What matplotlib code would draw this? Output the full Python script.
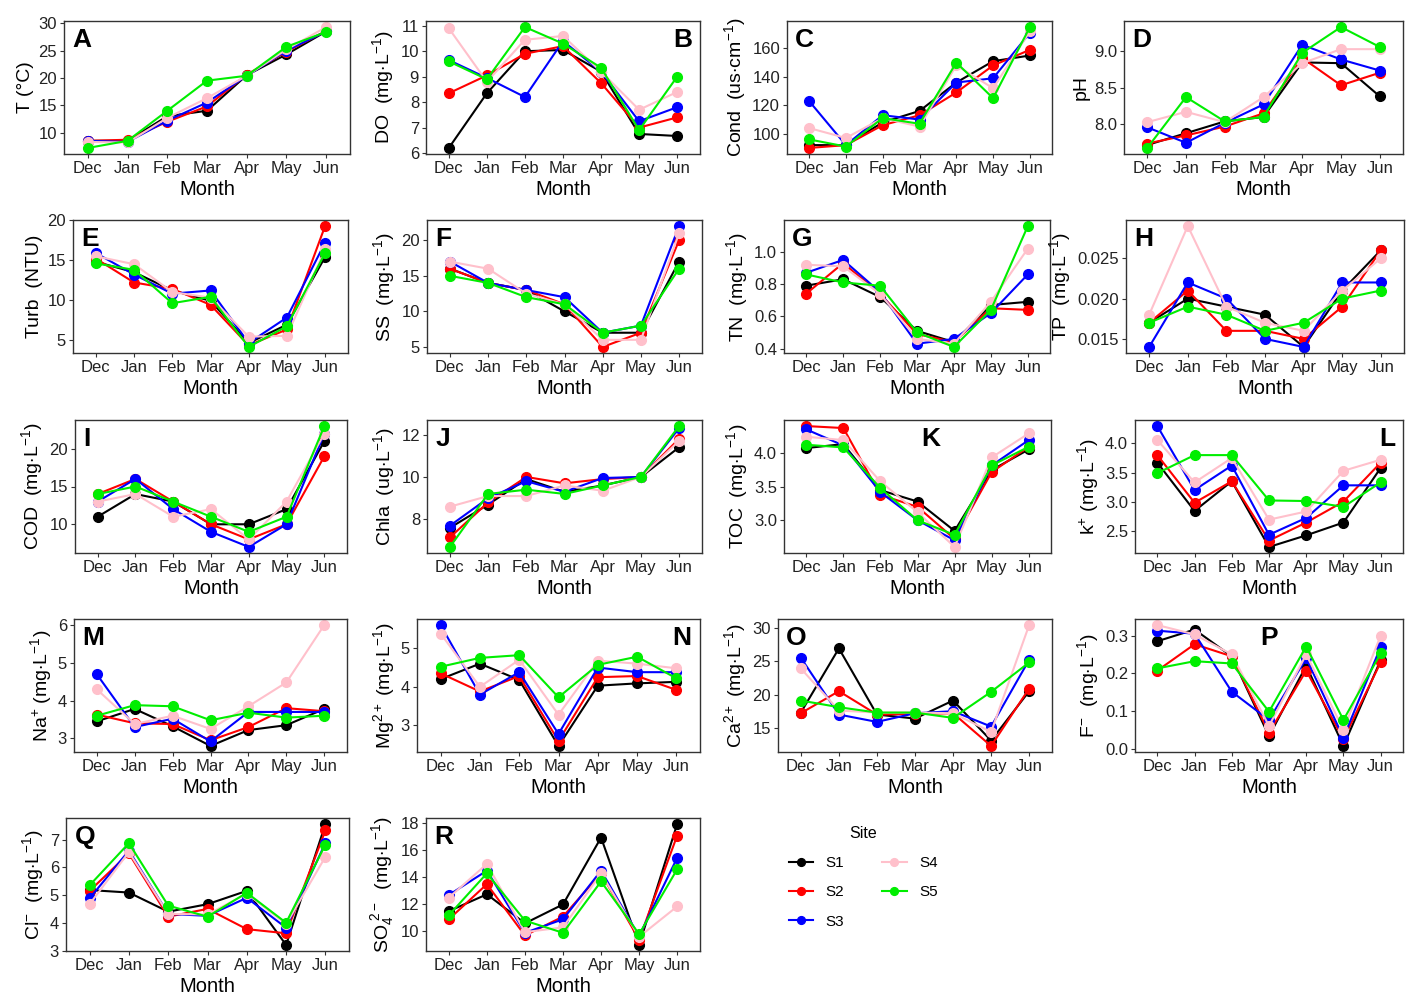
import numpy as np
import matplotlib
matplotlib.use("Agg")
import matplotlib.pyplot as plt

plt.rcParams['font.family'] = ['Liberation Sans', 'DejaVu Sans']
plt.rcParams['mathtext.fontset'] = 'custom'
plt.rcParams['mathtext.rm'] = 'Liberation Sans'
plt.rcParams['mathtext.it'] = 'Liberation Sans:italic'

months = ['Dec', 'Jan', 'Feb', 'Mar', 'Apr', 'May', 'Jun']
sites = ['S1', 'S2', 'S3', 'S4', 'S5']
colors = ['black', 'red', 'blue', 'pink', '#00EE00']

# rows = sites S1..S5, columns = months Dec..Jun
T = [[8.5, 8.5, 13.0, 14.0, 20.5, 24.3, 28.5],
     [8.5, 8.7, 12.0, 14.8, 20.6, 24.8, 28.6],
     [8.5, 8.3, 12.2, 15.5, 20.4, 25.0, 28.5],
     [8.3, 8.2, 12.7, 16.3, 20.4, 25.2, 29.3],
     [7.2, 8.5, 14.0, 19.5, 20.4, 25.7, 28.4]]
DO = [[6.2, 8.35, 10.0, 10.05, 9.2, 6.75, 6.67],
      [8.35, 9.05, 9.9, 10.2, 8.75, 7.0, 7.4],
      [9.65, 8.95, 8.2, 10.4, 9.2, 7.25, 7.8],
      [10.9, 8.8, 10.45, 10.6, 9.2, 7.7, 8.4],
      [9.6, 8.9, 10.95, 10.3, 9.35, 6.9, 9.0]]
COND = [[92, 92, 108, 116, 136, 151, 155],
        [90, 92, 106, 113, 129, 148, 159],
        [123, 92, 113, 110, 136, 139, 171],
        [104, 97, 111, 105, 148, 132, 172],
        [96, 91, 111, 107, 150, 125, 175]]
PH = [[7.72, 7.88, 8.04, 8.10, 8.84, 8.83, 8.38],
      [7.74, 7.85, 7.97, 8.15, 8.90, 8.53, 8.70],
      [7.96, 7.75, 8.02, 8.27, 9.08, 8.88, 8.73],
      [8.03, 8.17, 8.03, 8.37, 8.83, 9.02, 9.02],
      [7.68, 8.37, 8.04, 8.10, 8.97, 9.32, 9.05]]
TURB = [[14.8, 13.5, 11.2, 9.9, 4.6, 6.9, 15.4],
        [15.2, 12.2, 11.4, 9.4, 4.3, 6.3, 19.3],
        [15.9, 13.2, 10.8, 11.2, 4.6, 7.8, 17.2],
        [15.5, 14.5, 11.0, 10.3, 5.4, 5.5, 16.4],
        [14.6, 13.8, 9.6, 10.4, 4.1, 6.7, 15.9]]
SS = [[16, 14, 13, 10, 7, 7, 17],
      [16, 14, 13, 11, 5, 7, 20],
      [17, 14, 13, 12, 7, 8, 22],
      [17, 16, 12.5, 11, 6, 6, 21],
      [15, 14, 12, 11, 7, 8, 16]]
TN = [[0.79, 0.83, 0.72, 0.51, 0.44, 0.67, 0.69],
      [0.74, 0.93, 0.74, 0.49, 0.44, 0.65, 0.64],
      [0.87, 0.95, 0.75, 0.43, 0.46, 0.62, 0.86],
      [0.92, 0.91, 0.74, 0.46, 0.43, 0.69, 1.02],
      [0.86, 0.81, 0.79, 0.50, 0.41, 0.64, 1.16]]
TP = [[0.017, 0.020, 0.019, 0.018, 0.014, 0.021, 0.026],
      [0.017, 0.021, 0.016, 0.016, 0.015, 0.019, 0.026],
      [0.014, 0.022, 0.020, 0.015, 0.014, 0.022, 0.022],
      [0.018, 0.029, 0.019, 0.017, 0.016, 0.021, 0.025],
      [0.017, 0.019, 0.018, 0.016, 0.017, 0.020, 0.021]]
COD = [[11, 14, 13, 10, 10, 12, 21],
       [14, 16, 13, 10, 8, 10, 19],
       [13, 16, 12, 9, 7, 10, 22],
       [13, 14, 11, 12, 8, 13, 22],
       [14, 15, 13, 11, 9, 11, 23]]
CHLA = [[7.6, 8.7, 9.9, 9.3, 9.6, 10.0, 11.4],
        [7.15, 8.8, 10.0, 9.7, 9.9, 10.0, 11.8],
        [7.7, 9.0, 9.8, 9.3, 9.95, 10.0, 12.3],
        [8.6, 9.1, 9.1, 9.6, 9.35, 10.0, 11.7],
        [6.7, 9.2, 9.4, 9.2, 9.6, 10.0, 12.4]]
TOC = [[4.08, 4.14, 3.45, 3.28, 2.84, 3.75, 4.06],
       [4.41, 4.38, 3.38, 3.20, 2.72, 3.72, 4.10],
       [4.36, 4.12, 3.42, 3.00, 2.70, 3.82, 4.20],
       [4.25, 4.20, 3.58, 3.12, 2.60, 3.94, 4.30],
       [4.13, 4.09, 3.48, 3.00, 2.78, 3.82, 4.10]]
K = [[3.67, 2.84, 3.35, 2.22, 2.42, 2.64, 3.58],
     [3.80, 2.98, 3.35, 2.33, 2.64, 3.00, 3.67],
     [4.30, 3.20, 3.62, 2.43, 2.72, 3.28, 3.28],
     [4.06, 3.33, 3.75, 2.69, 2.83, 3.53, 3.72],
     [3.49, 3.80, 3.80, 3.02, 3.01, 2.91, 3.33]]
NA = [[3.45, 3.78, 3.32, 2.80, 3.22, 3.35, 3.78],
      [3.63, 3.40, 3.38, 2.95, 3.30, 3.80, 3.72],
      [4.70, 3.30, 3.52, 2.92, 3.70, 3.70, 3.70],
      [4.30, 3.38, 3.60, 3.25, 3.85, 4.48, 6.00],
      [3.60, 3.88, 3.85, 3.48, 3.68, 3.55, 3.60]]
MG = [[4.20, 4.60, 4.18, 2.47, 4.03, 4.09, 4.13],
      [4.35, 3.88, 4.28, 2.60, 4.25, 4.28, 3.92],
      [5.60, 3.80, 4.38, 2.78, 4.50, 4.38, 4.38],
      [5.38, 4.00, 4.70, 3.28, 4.68, 4.60, 4.48],
      [4.52, 4.75, 4.82, 3.73, 4.57, 4.78, 4.22]]
CA = [[17.3, 26.9, 17.0, 16.4, 19.1, 13.1, 20.5],
      [17.2, 20.5, 17.0, 17.1, 17.2, 12.3, 20.9],
      [25.5, 17.0, 15.9, 17.2, 17.5, 15.2, 25.2],
      [23.9, 17.6, 17.3, 17.3, 17.2, 14.4, 30.4],
      [19.1, 18.1, 17.3, 17.3, 16.5, 20.4, 24.8]]
F = [[0.285, 0.316, 0.245, 0.033, 0.220, 0.007, 0.235],
     [0.207, 0.277, 0.245, 0.042, 0.207, 0.025, 0.229],
     [0.313, 0.305, 0.151, 0.076, 0.240, 0.029, 0.270],
     [0.328, 0.303, 0.250, 0.060, 0.250, 0.050, 0.300],
     [0.213, 0.232, 0.226, 0.098, 0.271, 0.076, 0.253]]
CL = [[5.18, 5.09, 4.40, 4.67, 5.15, 3.20, 7.56],
      [5.15, 6.50, 4.22, 4.50, 3.77, 3.62, 7.33],
      [4.88, 6.60, 4.32, 4.25, 4.90, 3.82, 6.88],
      [4.67, 6.55, 4.32, 4.30, 5.05, 3.95, 6.38],
      [5.35, 6.87, 4.62, 4.22, 5.08, 4.00, 6.82]]
SO4 = [[11.5, 12.75, 10.6, 12.0, 16.95, 9.0, 17.95],
       [10.9, 13.5, 9.7, 11.1, 14.3, 9.4, 17.1],
       [12.7, 14.5, 9.9, 10.9, 14.5, 9.65, 15.45],
       [12.5, 15.0, 9.95, 10.3, 14.3, 9.6, 11.85],
       [11.2, 14.3, 10.8, 9.9, 13.7, 9.8, 14.6]]

W, H = 1417, 1007
unit = r'(mg$\cdot$L$^{-1}$)'

# letter, data, ylabel, ticks, tick fmt, letter side, pixel box (left, right, top, bottom)
panels = [
    ('A', T, r'T (°C)', [10, 15, 20, 25, 30], '%d', 'l', (64, 350, 21, 154)),
    ('B', DO, 'DO  ' + unit, [6, 7, 8, 9, 10, 11], '%d', 'r', (426, 700, 21, 154)),
    ('C', COND, r'Cond  (us$\cdot$cm$^{-1}$)', [100, 120, 140, 160], '%d', 'l', (787, 1052, 21, 154)),
    ('D', PH, 'pH', [8.0, 8.5, 9.0], '%.1f', 'l', (1124, 1403, 21, 154)),
    ('E', TURB, 'Turb  (NTU)', [5, 10, 15, 20], '%d', 'l', (73, 348, 220, 353)),
    ('F', SS, 'SS  ' + unit, [5, 10, 15, 20], '%d', 'l', (427, 702, 220, 353)),
    ('G', TN, 'TN  ' + unit, [0.4, 0.6, 0.8, 1.0], '%.1f', 'l', (784, 1050, 220, 353)),
    ('H', TP, 'TP  ' + unit, [0.015, 0.020, 0.025], '%.3f', 'l', (1126, 1404, 220, 353)),
    ('I', COD, 'COD  ' + unit, [10, 15, 20], '%d', 'l', (75, 347, 420, 553)),
    ('J', CHLA, r'Chla  (ug$\cdot$L$^{-1}$)', [8, 10, 12], '%d', 'l', (427, 702, 420, 553)),
    ('K', TOC, 'TOC  ' + unit, [3.0, 3.5, 4.0], '%.1f', 'm', (784, 1051, 420, 553)),
    ('L', K, r'k$^{+}$ ' + unit, [2.5, 3.0, 3.5, 4.0], '%.1f', 'r', (1135, 1403, 420, 553)),
    ('M', NA, r'Na$^{+}$ ' + unit, [3, 4, 5, 6], '%d', 'l', (74, 347, 619, 752)),
    ('N', MG, r'Mg$^{2+}$ ' + unit, [3, 4, 5], '%d', 'r', (417, 700, 619, 752)),
    ('O', CA, r'Ca$^{2+}$ ' + unit, [15, 20, 25, 30], '%d', 'l', (778, 1052, 619, 752)),
    ('P', F, r'F$^{-}$  ' + unit, [0.0, 0.1, 0.2, 0.3], '%.1f', 'p', (1135, 1403, 619, 752)),
    ('Q', CL, r'Cl$^{-}$  ' + unit, [3, 4, 5, 6, 7], '%d', 'l', (66, 349, 818, 951)),
    ('R', SO4, r'SO$_4^{\ 2-}$  ' + unit, [10, 12, 14, 16, 18], '%d', 'l', (426, 700, 818, 951)),
]

fig = plt.figure(figsize=(W / 100, H / 100), dpi=100)
x = np.arange(len(months))
handles = []

for letter, data, ylab, ticks, fmt, side, box in panels:
    l, r, t, b = box
    ax = fig.add_axes([l / W, 1 - b / H, (r - l) / W, (b - t) / H])
    for i, site in enumerate(sites):
        h, = ax.plot(x, data[i], '-o', color=colors[i], lw=1.5, ms=7, label=site)
        if letter == 'A':
            handles.append(h)
    vals = np.array(data, dtype=float)
    lo, hi = vals.min(), vals.max()
    pad = (hi - lo) * 0.05
    ax.set_ylim(lo - pad, hi + pad)
    ax.set_xlim(-0.6, 6.6)
    ax.set_xticks(x)
    ax.set_xticklabels(months)
    ax.set_yticks(ticks)
    ax.set_yticklabels([fmt % v for v in ticks])
    ax.tick_params(labelsize=12, length=3, width=0.8, colors='#333333', pad=2)
    ax.tick_params(labelcolor='#222222')
    for s in ax.spines.values():
        s.set_linewidth(1.0)
        s.set_color('#333333')
    ax.set_xlabel('Month', fontsize=14.5, labelpad=3)
    ax.set_ylabel(ylab, fontsize=14, labelpad=3)
    if side == 'l':
        ax.text(0.03, 0.95, letter, transform=ax.transAxes, ha='left', va='top',
                fontsize=19, fontweight='bold')
    elif side == 'r':
        ax.text(0.97, 0.95, letter, transform=ax.transAxes, ha='right', va='top',
                fontsize=19, fontweight='bold')
    elif side == 'm':
        ax.text(0.55, 0.95, letter, transform=ax.transAxes, ha='center', va='top',
                fontsize=19, fontweight='bold')
    else:
        ax.text(0.50, 0.95, letter, transform=ax.transAxes, ha='center', va='top',
                fontsize=19, fontweight='bold')

leg = fig.legend(handles=handles, labels=sites, ncol=2, title='Site',
                 loc='upper left', bbox_to_anchor=(775 / W, 1 - 812 / H),
                 frameon=False, fontsize=11, title_fontsize=11.5,
                 handlelength=1.6, columnspacing=2.5, labelspacing=1.0,
                 markerscale=0.8)

fig.savefig('out.png', dpi=100)
